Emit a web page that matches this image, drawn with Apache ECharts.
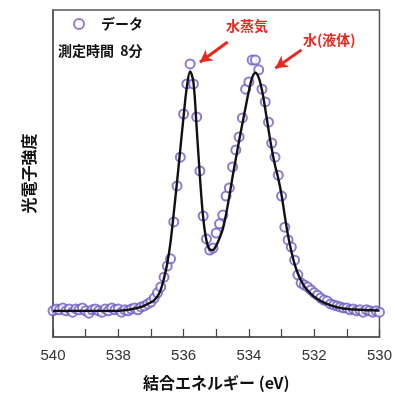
<!DOCTYPE html>
<html><head><meta charset="utf-8">
<script src="https://cdn.jsdelivr.net/npm/echarts@6/dist/echarts.min.js"></script>
<style>html,body{margin:0;padding:0;background:#fff}#c{width:395px;height:399px}</style>
</head><body><div id="c"></div>
<script>
const energies = [540.0,539.9,539.8,539.7,539.6,539.5,539.4,539.3,539.2,539.1,
539.0,538.9,538.8,538.7,538.6,538.5,538.4,538.3,538.2,538.1,
538.0,537.9,537.8,537.7,537.6,537.5,537.4,537.3,537.2,537.1,
537.0,536.9,536.8,536.7,536.6,536.5,536.4,536.3,536.2,536.1,
536.0,535.9,535.8,535.7,535.6,535.5,535.4,535.3,535.2,535.1,
535.0,534.9,534.8,534.7,534.6,534.5,534.4,534.3,534.2,534.1,
534.0,533.9,533.8,533.7,533.6,533.5,533.4,533.3,533.2,533.1,
533.0,532.9,532.8,532.7,532.6,532.5,532.4,532.3,532.2,532.1,
532.0,531.9,531.8,531.7,531.6,531.5,531.4,531.3,531.2,531.1,
531.0,530.9,530.8,530.7,530.6,530.5,530.4,530.3,530.2,530.1,
530.0];
const measured = [8.0,8.6,8.3,8.9,8.0,8.6,7.6,8.6,8.3,8.9,
8.0,7.3,8.3,8.6,8.0,7.6,8.6,8.0,8.9,8.3,
8.6,7.6,8.3,8.0,8.6,8.9,8.3,9.2,9.5,10.1,
10.7,11.9,13.5,15.3,18.3,21.7,23.9,35.2,46.2,55.0,
68.2,77.4,83.5,77.4,67.3,50.8,37.0,30.0,26.6,27.2,
31.8,34.6,37.3,43.1,45.6,52.0,57.2,61.2,67.0,75.8,
78.0,84.7,84.7,81.7,75.8,71.9,65.7,59.3,55.0,49.5,
43.1,33.6,29.7,27.5,23.5,19.0,16.5,15.9,15.3,14.4,
13.5,12.8,11.9,11.3,11.0,10.1,9.8,9.5,9.2,8.9,
8.9,8.3,8.6,8.0,8.3,7.6,8.3,8.0,7.6,8.0,
7.6];
const fitted = [8.0,8.0,8.0,8.0,8.0,8.0,8.0,8.0,8.0,8.0,
8.0,8.0,8.0,8.0,8.0,8.0,8.0,8.0,8.0,8.0,
8.0,8.1,8.2,8.3,8.5,8.7,8.9,9.2,9.6,10.1,
10.6,11.3,12.4,14.5,18.0,22.5,29.0,38.0,47.5,57.5,
67.5,76.5,81.2,78.0,64.0,49.0,36.5,29.5,26.8,26.6,
28.0,30.2,33.0,37.5,43.0,49.0,54.5,60.0,65.2,70.3,
75.3,79.3,80.8,79.3,75.5,69.8,63.5,57.5,52.5,48.5,
43.5,37.0,31.0,26.2,22.3,19.4,17.2,15.5,14.2,13.2,
12.3,11.6,11.0,10.5,10.1,9.7,9.4,9.1,8.9,8.7,
8.6,8.5,8.4,8.4,8.3,8.3,8.2,8.2,8.2,8.1,
8.1];
const xTicks = [540,538,536,534,532,530];
const legendName = 'データ';
const noteText = '測定時間  8分';
const vaporLabel = '水蒸気', vaporArrow = [[534.65,90.2],[535.5,84.0]];
const liquidLabel = '水(液体)', liquidArrow = [[532.39,87.8],[533.19,82.2]];

const red = '#e8281e';
const font = '"Noto Sans CJK JP","Liberation Sans",sans-serif';
const chart = echarts.init(document.getElementById('c'));
chart.setOption({
  animation:false,
  grid:{left:53,right:11,top:10,bottom:62,show:true,borderColor:'#555',borderWidth:1.5},
  legend:{left:68,top:12,itemWidth:10,itemHeight:10,itemGap:4,
    data:[legendName],
    textStyle:{fontFamily:font,fontSize:14,fontWeight:'bold',color:'#111',padding:[0,0,0,12]}},
  xAxis:{type:'value',min:530,max:540,interval:1,inverse:true,
    name:'結合エネルギー (eV)',nameLocation:'middle',nameGap:38,
    nameTextStyle:{fontFamily:font,fontSize:16,fontWeight:'bold',color:'#111'},
    axisLine:{lineStyle:{color:'#555',width:1.5}},
    axisTick:{inside:true,length:8,lineStyle:{color:'#444',width:1.2}},
    axisLabel:{margin:11,fontFamily:'"Liberation Sans",Arial',fontSize:15,color:'#333',
      formatter:v=>xTicks.includes(v)?String(v):''},
    splitLine:{show:false}},
  yAxis:{type:'value',min:0,max:100,
    name:'光電子強度',nameLocation:'middle',nameGap:16,nameRotate:90,
    nameTextStyle:{fontFamily:font,fontSize:16,fontWeight:'bold',color:'#111'},
    axisLine:{show:true,lineStyle:{color:'#555',width:1.5}},
    axisTick:{show:false},axisLabel:{show:false},splitLine:{show:false}},
  graphic:[
    {type:'text',left:58,top:44,style:{text:noteText,font:'bold 14px '+font,fill:'#111'}},
    {type:'text',left:226,top:19,style:{text:vaporLabel,font:'bold 14px '+font,fill:red}},
    {type:'text',left:303,top:33,style:{text:liquidLabel,font:'bold 14px '+font,fill:red}}
  ],
  series:[
    {name:legendName,type:'scatter',symbol:'emptyCircle',symbolSize:9,z:2,
      itemStyle:{color:'#6a5cc4',borderColor:'#6a5cc4',borderWidth:1.2},
      data:energies.map((e,i)=>[e,measured[i]])},
    {name:'fit',type:'line',smooth:0.35,showSymbol:false,z:3,
      lineStyle:{color:'#111',width:2.4},
      data:energies.map((e,i)=>[e,fitted[i]]),
      markLine:{silent:true,symbol:['none','arrow'],symbolSize:[10,12],
        lineStyle:{color:red,width:3,type:'solid'},label:{show:false},
        data:[
          [{coord:vaporArrow[0]},{coord:vaporArrow[1]}],
          [{coord:liquidArrow[0]},{coord:liquidArrow[1]}]
        ]}}
  ]
});
</script></body></html>
